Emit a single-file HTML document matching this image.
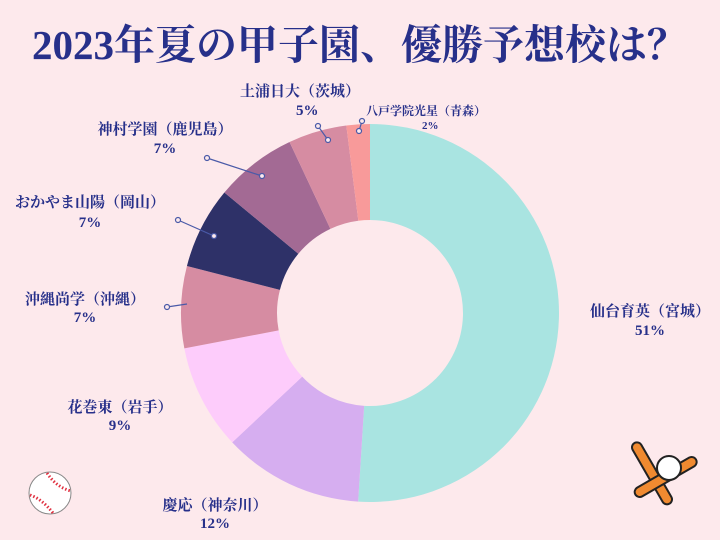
<!DOCTYPE html>
<html><head><meta charset="utf-8"><style>
body{margin:0;width:720px;height:540px;background:#fde9ec;overflow:hidden;font-family:"Liberation Serif","Noto Serif CJK SC",serif;color:#27308a}
.t{position:absolute;white-space:nowrap;text-align:center;font-weight:bold}
</style></head><body>
<div class="t" style="left:0;width:720px;top:17px;font-size:41px;line-height:50px;font-weight:bold;font-family:'Liberation Serif','Noto Serif CJK SC',serif">2023年夏の甲子園、優勝予想校は<span style="font-family:'Noto Serif CJK SC',serif">？</span></div>
<svg width="720" height="540" style="position:absolute;left:0;top:0" id="s">
<g id="d"></g>
<g stroke="#4a5aa8" stroke-width="1.2" fill="#fde9ec">
<line x1="318" y1="126" x2="328" y2="140"/><circle cx="318" cy="126" r="2.5"/><circle cx="328" cy="140" r="2.5"/>
<line x1="362" y1="121" x2="359" y2="131"/><circle cx="362" cy="121" r="2.5"/><circle cx="359" cy="131" r="2.5"/>
<line x1="207" y1="158" x2="262" y2="176"/><circle cx="207" cy="158" r="2.5"/><circle cx="262" cy="176" r="2.5"/>
<line x1="178" y1="220" x2="214" y2="236"/><circle cx="178" cy="220" r="2.5"/><circle cx="214" cy="236" r="2.5"/>
<line x1="167" y1="307" x2="187" y2="304"/><circle cx="167" cy="307" r="2.5"/>
</g>
<g transform="translate(50,493)"><circle r="21" fill="#fff" stroke="#888" stroke-width="1"/>
<path d="M-3,-20 Q6,-6 21,-2 M-20,2 Q-8,6 3,20" fill="none" stroke="#e03040" stroke-width="3" stroke-dasharray="1.5 2"/></g>
<g transform="translate(657,482)">
<g transform="rotate(-30)"><rect x="-5" y="-45" width="10" height="70" rx="5" fill="#f08a30" stroke="#222" stroke-width="2"/></g>
<g transform="rotate(60)"><rect x="-5" y="-45" width="10" height="70" rx="5" fill="#f08a30" stroke="#222" stroke-width="2"/></g>
<circle cx="12" cy="-14" r="12" fill="#fff" stroke="#222" stroke-width="2"/>
</g>
</svg>
<div class="t" style="left:240px;top:80px;font-size:15px">土浦日大（茨城）</div>
<div class="t" style="left:296px;top:103px;font-size:15px">5%</div>
<div class="t" style="left:366px;top:102px;font-size:12px">八戸学院光星（青森）</div>
<div class="t" style="left:422px;top:120px;font-size:11px">2%</div>
<div class="t" style="left:90px;top:118px;font-size:15px;width:150px">神村学園（鹿児島）</div>
<div class="t" style="left:90px;top:141px;font-size:15px;width:150px">7%</div>
<div class="t" style="left:10px;top:191px;font-size:15px;width:160px">おかやま山陽（岡山）</div>
<div class="t" style="left:10px;top:215px;font-size:15px;width:160px">7%</div>
<div class="t" style="left:10px;top:288px;font-size:15px;width:150px">沖縄尚学（沖縄）</div>
<div class="t" style="left:10px;top:310px;font-size:15px;width:150px">7%</div>
<div class="t" style="left:45px;top:396px;font-size:15px;width:150px">花巻東（岩手）</div>
<div class="t" style="left:45px;top:418px;font-size:15px;width:150px">9%</div>
<div class="t" style="left:150px;top:494px;font-size:15px;width:130px">慶応（神奈川）</div>
<div class="t" style="left:150px;top:516px;font-size:15px;width:130px">12%</div>
<div class="t" style="left:575px;top:300px;font-size:15px;width:150px">仙台育英（宮城）</div>
<div class="t" style="left:575px;top:323px;font-size:15px;width:150px">51%</div>
<script>
var v=[51,12,9,7,7,7,5,2],c=["#a9e4e1","#d6aef0","#fdccfb","#d68ca2","#2e3168","#a36a94","#d68ca2","#f89a9a"];
var cx=370,cy=313,R=189,r=93,a=0,g=document.getElementById('d'),h='';
function p(t,rr){return [cx+rr*Math.sin(t),cy-rr*Math.cos(t)]}
v.forEach(function(x,i){var b=a+x/100*2*Math.PI,l=x>50?1:0;var A=p(a,R),B=p(b,R),C=p(b,r),D=p(a,r);
h+='<path fill="'+c[i]+'" d="M'+A+'A'+R+','+R+' 0 '+l+' 1 '+B+'L'+C+'A'+r+','+r+' 0 '+l+' 0 '+D+'Z"/>';a=b;});
g.innerHTML=h;
</script>
</body></html>
